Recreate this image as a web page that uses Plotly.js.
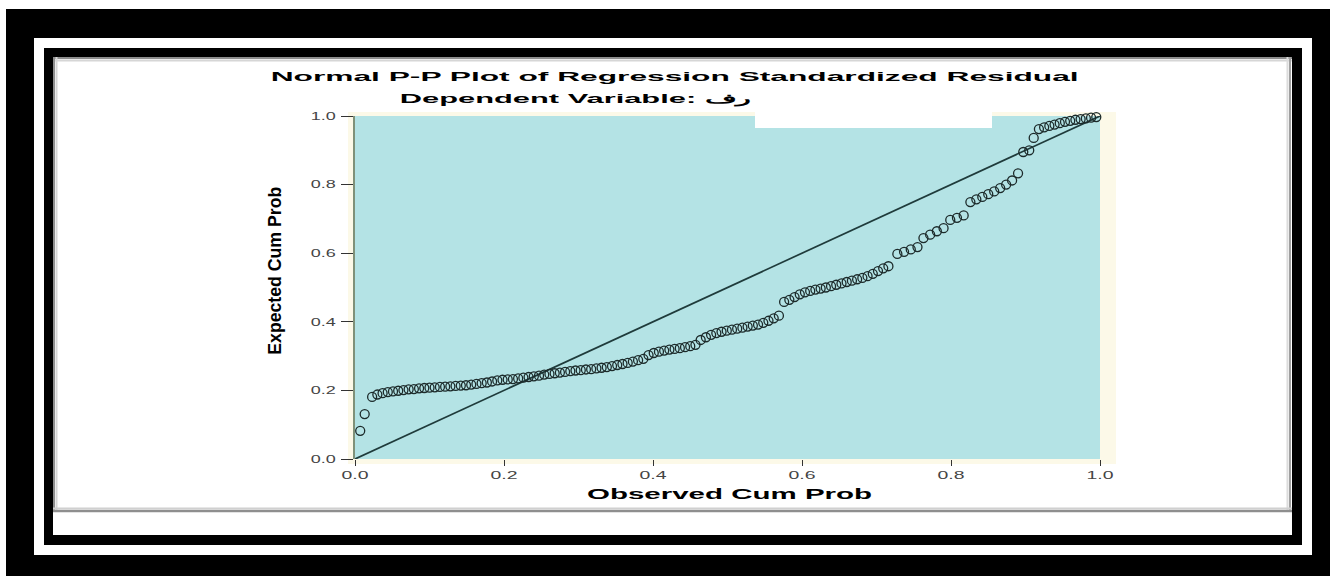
<!DOCTYPE html>
<html><head><meta charset="utf-8">
<script src="https://cdn.plot.ly/plotly-3.0.1.min.js"></script>
<style>html,body{margin:0;padding:0;background:#fff;overflow:hidden}#chart{width:1336px;height:576px}</style>
</head><body><div id="chart"></div>
<script>
// ---- data ----
const observedCumProb = [
  0.007,0.013,0.023,
  0.030,0.037,0.044,0.051,0.058,0.065,0.072,0.079,0.086,0.093,0.100,0.107,0.114,0.121,0.128,0.135,0.142,0.149,0.156,0.163,0.170,0.177,0.184,0.191,0.198,0.205,0.212,0.219,
  0.226,0.233,0.240,0.247,0.254,0.261,0.268,0.275,0.282,0.289,0.296,0.303,0.310,0.317,0.324,0.331,0.338,0.345,0.352,0.359,0.366,0.373,0.380,0.387,
  0.394,0.401,0.408,0.415,0.422,0.429,0.436,0.443,0.450,0.457,
  0.464,0.471,0.478,0.485,0.492,0.499,0.506,0.513,0.520,0.527,0.534,0.541,0.548,0.555,0.562,0.569,
  0.576,0.583,0.590,0.597,0.604,0.611,0.618,0.625,0.632,0.639,0.646,0.653,0.660,0.667,0.674,0.681,0.688,0.695,0.702,0.709,0.716,
  0.728,0.737,0.746,0.755,
  0.763,0.772,0.781,0.790,
  0.799,0.808,0.817,
  0.826,0.834,0.842,0.850,0.858,0.866,0.874,0.882,0.890,
  0.897,0.905,0.911,
  0.918,0.925,0.932,0.939,0.946,0.953,0.960,0.967,0.974,0.981,0.988,0.995
];
const expectedCumProb = [
  0.082,0.131,0.181,
  0.188,0.192,0.195,0.197,0.199,0.201,0.203,0.204,0.206,0.207,0.208,0.209,0.210,0.211,0.212,0.213,0.214,0.215,0.217,0.219,0.221,0.223,0.226,0.229,0.231,0.232,0.233,0.235,
  0.237,0.239,0.241,0.243,0.246,0.248,0.250,0.252,0.254,0.256,0.258,0.259,0.261,0.262,0.264,0.266,0.268,0.271,0.274,0.277,0.280,0.284,0.288,0.292,
  0.303,0.309,0.313,0.316,0.319,0.321,0.323,0.326,0.329,0.333,
  0.347,0.355,0.362,0.367,0.371,0.374,0.377,0.380,0.383,0.386,0.389,0.392,0.397,0.403,0.410,0.418,
  0.458,0.464,0.472,0.480,0.486,0.490,0.494,0.497,0.500,0.504,0.508,0.512,0.516,0.520,0.524,0.528,0.533,0.540,0.548,0.556,0.562,
  0.598,0.604,0.611,0.618,
  0.644,0.654,0.664,0.673,
  0.697,0.703,0.710,
  0.749,0.757,0.764,0.772,0.780,0.790,0.800,0.812,0.833,
  0.895,0.900,0.936,
  0.962,0.967,0.971,0.975,0.979,0.983,0.986,0.989,0.991,0.993,0.995,0.997
];
const refLineX = [0, 1];
const refLineY = [0, 1];
const tickVals = [0, 0.2, 0.4, 0.6, 0.8, 1.0];
const tickText = ['0.0', '0.2', '0.4', '0.6', '0.8', '1.0'];
const chartTitle = 'Normal P-P Plot of Regression Standardized Residual';
const subTitle = 'Dependent Variable: رف';
const xTitle = 'Observed Cum Prob';
const yTitle = 'Expected Cum Prob';

// ---- layout helpers (pixel -> paper) ----
const W = 1336, H = 576, L = 355, R = 1100, T = 116, B = 459;
const px = v => (v - L) / (R - L);
const py = v => (B - v) / (B - T);
function rect(x0, y0, x1, y1, fill, layer) {
  return {type:'rect', xref:'paper', yref:'paper', x0:px(x0), x1:px(x1), y0:py(y1), y1:py(y0),
          fillcolor:fill, line:{width:0}, layer:layer || 'below'};
}
function seg(x0, y0, x1, y1, color, w) {
  return {type:'line', xref:'paper', yref:'paper', x0:px(x0), x1:px(x1), y0:py(y0), y1:py(y1),
          line:{color:color, width:w}, layer:'below'};
}

const shapes = [
  rect(6, 9, 1330, 576, '#000'),
  rect(34, 38, 1312, 555, '#fff'),
  rect(44, 48, 1302, 545, '#000'),
  rect(53, 57, 1292, 535, '#fff'),
  seg(53, 58, 1292, 58, '#8e8e8e', 2),
  seg(53, 60.5, 1292, 60.5, '#d6d6d6', 2),
  seg(54, 57, 54, 512, '#8e8e8e', 2),
  seg(56.5, 57, 56.5, 512, '#d6d6d6', 2),
  seg(1290, 57, 1290, 512, '#a0a0a0', 2),
  seg(1287.5, 57, 1287.5, 512, '#dcdcdc', 2),
  seg(53, 511, 1292, 511, '#8e8e8e', 2.5),
  seg(53, 508.5, 1292, 508.5, '#d0d0d0', 2),
  rect(348, 112, 1116, 464, '#fcf9e8'),
  rect(355, 116, 1100, 459, '#b4e3e5'),
  rect(755, 112, 992, 128, '#fff', 'above')
];

const ann = (text, x, y, size, angle) => ({
  text: text, xref:'paper', yref:'paper', x: px(x), y: py(y), xanchor:'center', yanchor:'middle',
  showarrow:false, textangle: angle || 0,
  font:{family:'Liberation Sans, Arial, sans-serif', size:size, color:'#000', weight:'bold'}
});
const annotations = [
  ann(chartTitle, 674, 77, 13),
  ann(subTitle, 575, 99, 13),
  ann(xTitle, 729, 493, 15),
  ann(yTitle, 274, 271, 19, -90)
];
const annLengths = [808, 350, 285, 168];

const data = [
  {x: refLineX, y: refLineY, type:'scatter', mode:'lines', hoverinfo:'skip',
   line:{color:'#1f3b3b', width:1.7}, cliponaxis:false, showlegend:false},
  {x: observedCumProb, y: expectedCumProb, type:'scatter', mode:'markers', cliponaxis:false, showlegend:false,
   marker:{symbol:'circle-open', size:9, color:'#1c2a2a', line:{width:1.3, color:'#1c2a2a'}}}
];

const tickFont = {family:'Liberation Sans, Arial, sans-serif', size:11, color:'#444'};
const layout = {
  width: W, height: H,
  margin: {l: L, r: W - R, t: T, b: H - B},
  paper_bgcolor: '#fff', plot_bgcolor: 'rgba(0,0,0,0)',
  showlegend: false,
  xaxis: {range:[0,1], tickvals:tickVals, ticktext:tickText, ticks:'outside', ticklen:6, tickwidth:1,
          tickcolor:'#333', showgrid:false, zeroline:false, showline:false, tickfont:tickFont, fixedrange:true},
  yaxis: {range:[0,1], tickvals:tickVals, ticktext:tickText, ticks:'outside', ticklen:12, tickwidth:1,
          tickcolor:'#333', showgrid:false, zeroline:false, showline:true, linecolor:'#7f9179', linewidth:2,
          ticklabelstandoff:3, tickfont:tickFont, fixedrange:true},
  shapes: shapes,
  annotations: annotations
};

Plotly.newPlot('chart', data, layout, {staticPlot:true, displayModeBar:false}).then(gd => {
  const stretch = (el, len) => { el.setAttribute('textLength', len); el.setAttribute('lengthAdjust', 'spacingAndGlyphs'); };
  gd.querySelectorAll('.annotation').forEach((g, i) => {
    const t = g.querySelector('text.annotation-text');
    if (t && annLengths[i]) stretch(t, annLengths[i]);
  });
  gd.querySelectorAll('.xtick text').forEach(t => stretch(t, 27));
  gd.querySelectorAll('.ytick text').forEach(t => stretch(t, 25));
});
</script>
</body></html>
